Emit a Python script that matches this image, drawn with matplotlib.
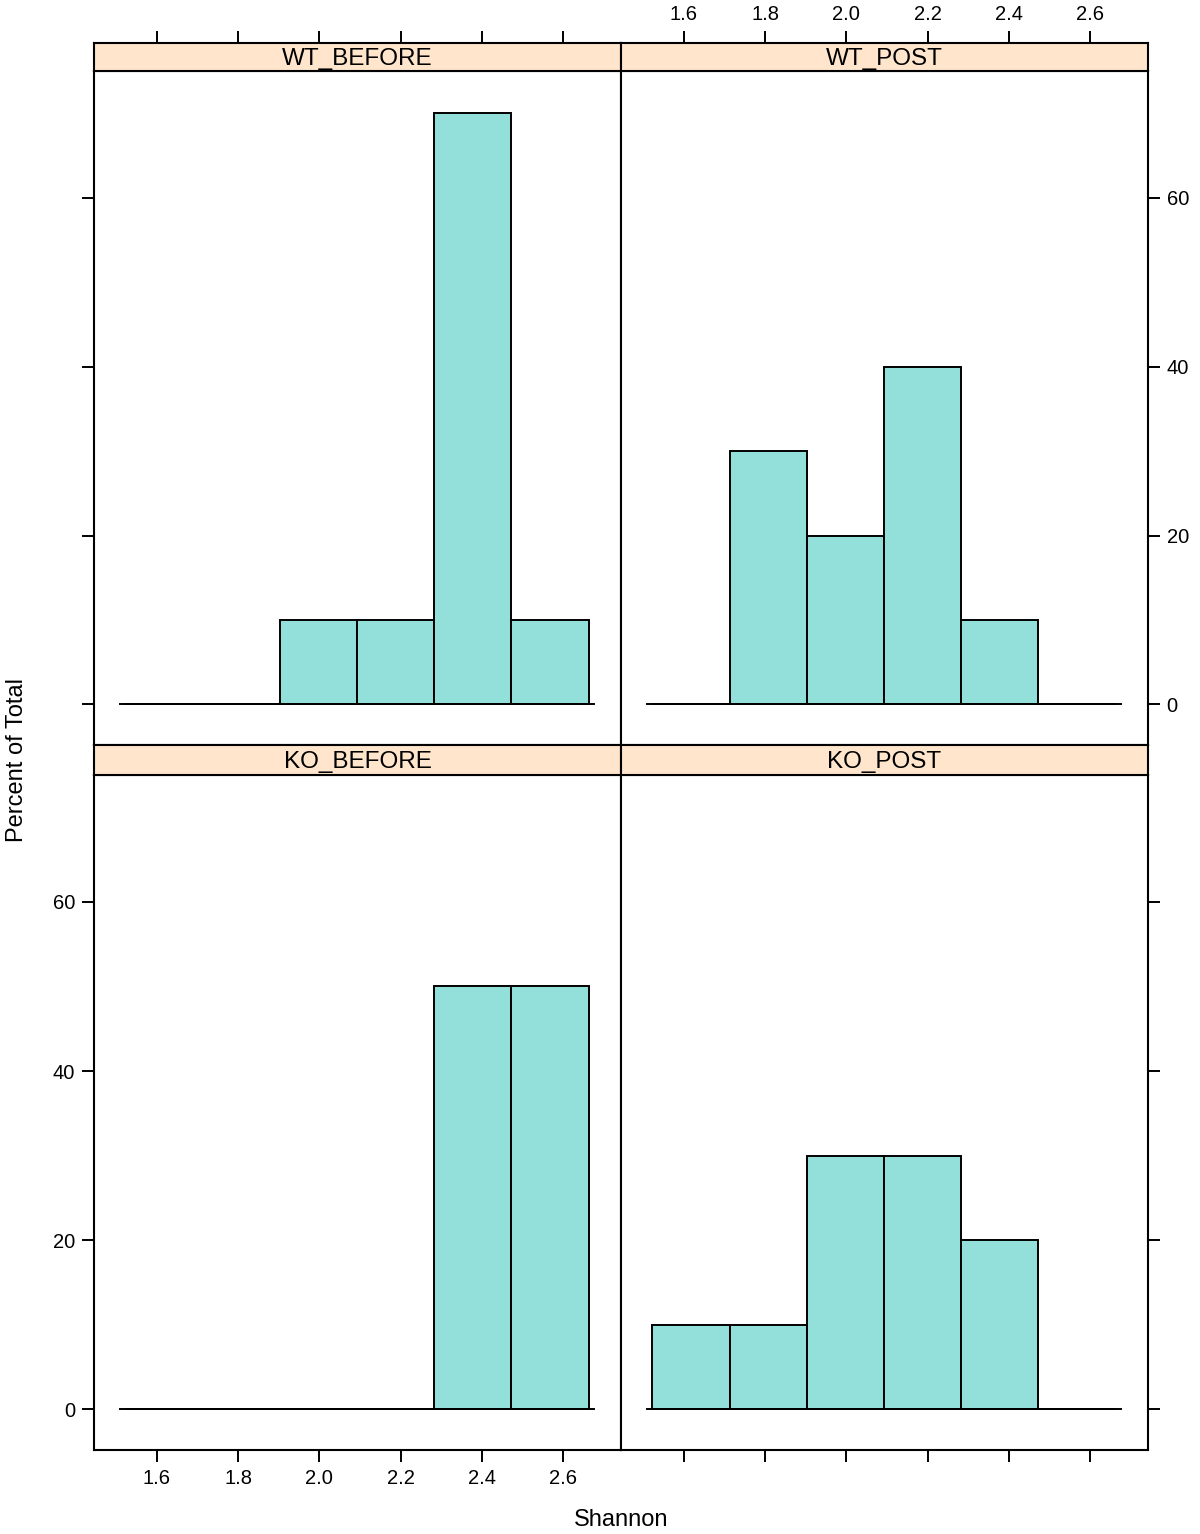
import matplotlib
matplotlib.use("Agg")
import matplotlib.pyplot as plt

plt.rcParams["font.family"] = ["Liberation Sans", "DejaVu Sans"]

# histogram bins (Shannon index) and percent of total per panel
bin_edges = [1.521, 1.713, 1.903, 2.092, 2.283, 2.473, 2.663]
panels = ["WT_BEFORE", "WT_POST", "KO_BEFORE", "KO_POST"]
wt_before = [0, 0, 10, 10, 70, 10]
wt_post = [0, 30, 20, 40, 10, 0]
ko_before = [0, 0, 0, 0, 50, 50]
ko_post = [10, 10, 30, 30, 20, 0]
percents = [wt_before, wt_post, ko_before, ko_post]
baseline = (1.509, 2.677)

x_ticks = [1.6, 1.8, 2.0, 2.2, 2.4, 2.6]
y_ticks = [0, 20, 40, 60]
xlim = (1.445, 2.743)
ylim = (-4.8, 75.0)

bar_color = "#93dfd9"
strip_color = "#ffe5cc"

W, H = 1200, 1534
fig = plt.figure(figsize=(W / 100, H / 100), dpi=100)


def px_axes(x0, y0, x1, y1):
    return fig.add_axes([x0 / W, 1 - y1 / H, (x1 - x0) / W, (y1 - y0) / H])


cols = [(94, 621), (621, 1148)]
rows = [(43, 71, 745), (745, 775, 1450)]
tick_kw = dict(direction="out", length=8.5, width=1.4, labelsize=14.5, pad=5)

for i, name in enumerate(panels):
    r, c = divmod(i, 2)
    x0, x1 = cols[c]
    s0, p0, p1 = rows[r]

    ax = px_axes(x0, p0, x1, p1)
    lefts = bin_edges[:-1]
    widths = [b - a for a, b in zip(bin_edges[:-1], bin_edges[1:])]
    ax.bar(lefts, percents[i], width=widths, align="edge", color=bar_color,
           edgecolor="black", linewidth=1.4, zorder=2)
    ax.plot(baseline, [0, 0], color="black", linewidth=1.4, zorder=3)
    ax.set_xlim(*xlim)
    ax.set_ylim(*ylim)
    for sp in ax.spines.values():
        sp.set_linewidth(1.5)

    ax.set_yticks(y_ticks)
    ax.set_xticks(x_ticks)
    ax.set_xticklabels([f"{t:.1f}" for t in x_ticks])
    ax.tick_params(**tick_kw)
    # x ticks: bottom row only at bottom
    if r == 0:
        ax.tick_params(axis="x", bottom=False, labelbottom=False)
    else:
        ax.tick_params(axis="x", bottom=True, labelbottom=(c == 0))
    # y ticks
    if c == 0:
        ax.tick_params(axis="y", left=True, right=False, labelleft=(r == 1))
    else:
        ax.tick_params(axis="y", left=False, right=True, labelleft=False,
                       labelright=(r == 0))

    st = px_axes(x0, s0, x1, p0)
    st.set_facecolor(strip_color)
    st.set_xlim(*xlim)
    st.set_ylim(0, 1)
    st.set_yticks([])
    for sp in st.spines.values():
        sp.set_linewidth(1.5)
    st.text(0.5, 0.42, name, transform=st.transAxes, ha="center", va="center",
            fontsize=17.5)
    if r == 0:
        st.set_xticks(x_ticks)
        st.set_xticklabels([f"{t:.1f}" for t in x_ticks])
        st.tick_params(axis="x", **tick_kw)
        st.tick_params(axis="x", bottom=False, labelbottom=False, top=True,
                       labeltop=(c == 1))
    else:
        st.set_xticks([])

fig.text(621 / W, 1 - 1520 / H, "Shannon", ha="center", va="center", fontsize=17)
fig.text(17 / W, 1 - 760 / H, "Percent of Total", ha="center", va="center",
         rotation=90, fontsize=17)

fig.savefig("out.png", dpi=100)
